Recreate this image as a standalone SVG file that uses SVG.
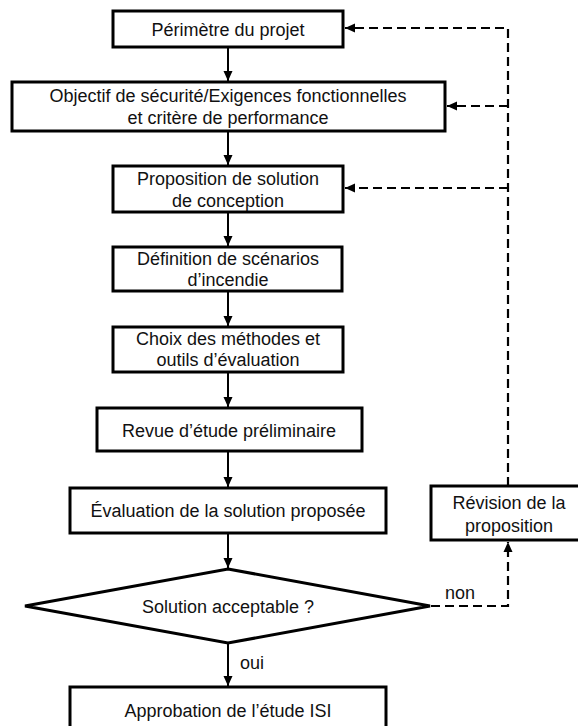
<svg xmlns="http://www.w3.org/2000/svg" width="578" height="726" viewBox="0 0 578 726">
<style>
.box{fill:#fff;stroke:#000;stroke-width:3}
.t{font-family:"Liberation Sans",Arial,sans-serif;font-size:18px;fill:#111;text-anchor:middle}
.tl{font-family:"Liberation Sans",Arial,sans-serif;font-size:18px;fill:#111}
.solid{fill:none;stroke:#000;stroke-width:2}
.dash{fill:none;stroke:#000;stroke-width:2.2;stroke-dasharray:9 5}
</style>
<defs>
<marker id="ah" markerUnits="userSpaceOnUse" markerWidth="10" markerHeight="10" viewBox="0 0 10 10" refX="10" refY="5" orient="auto">
<path d="M0,0.5 L10,5 L0,9.5 Z" fill="#000"/>
</marker>
</defs>
<rect width="578" height="726" fill="#fff"/>
<g id="connectors">
<line class="solid" x1="228" y1="47" x2="228" y2="81" marker-end="url(#ah)"/>
<line class="solid" x1="228" y1="131" x2="228" y2="165" marker-end="url(#ah)"/>
<line class="solid" x1="228" y1="212" x2="228" y2="246" marker-end="url(#ah)"/>
<line class="solid" x1="228" y1="291" x2="228" y2="326" marker-end="url(#ah)"/>
<line class="solid" x1="228" y1="372" x2="228" y2="407" marker-end="url(#ah)"/>
<line class="solid" x1="228" y1="451" x2="228" y2="487" marker-end="url(#ah)"/>
<line class="solid" x1="228" y1="533" x2="228" y2="568" marker-end="url(#ah)"/>
<line class="solid" x1="228" y1="643" x2="228" y2="686" marker-end="url(#ah)"/>
<polyline class="dash" points="431,606 508,606 508,542" marker-end="url(#ah)"/>
<polyline class="dash" points="508,486 508,28 345,28" marker-end="url(#ah)"/>
<line class="dash" x1="508" y1="106" x2="447" y2="106" marker-end="url(#ah)"/>
<line class="dash" x1="508" y1="188" x2="345" y2="188" marker-end="url(#ah)"/>
<text class="tl" x="445" y="599">non</text>
<text class="tl" x="240" y="669">oui</text>
</g>
<g id="n1">
<rect class="box" x="113" y="11" width="230" height="36"/>
<text class="t" x="228" y="36">Périmètre du projet</text>
</g>
<g id="n2">
<rect class="box" x="12" y="82" width="433" height="49"/>
<text class="t" x="228" y="102">Objectif de sécurité/Exigences fonctionnelles</text>
<text class="t" x="228" y="124">et critère de performance</text>
</g>
<g id="n3">
<rect class="box" x="113" y="166" width="230" height="46"/>
<text class="t" x="228" y="185">Proposition de solution</text>
<text class="t" x="228" y="207">de conception</text>
</g>
<g id="n4">
<rect class="box" x="113" y="247" width="229" height="44"/>
<text class="t" x="228" y="265">Définition de scénarios</text>
<text class="t" x="228" y="286">d’incendie</text>
</g>
<g id="n5">
<rect class="box" x="113" y="327" width="230" height="45"/>
<text class="t" x="228" y="345">Choix des méthodes et</text>
<text class="t" x="228" y="366">outils d’évaluation</text>
</g>
<g id="n6">
<rect class="box" x="97" y="408" width="265" height="43"/>
<text class="t" x="229" y="437">Revue d’étude préliminaire</text>
</g>
<g id="n7">
<rect class="box" x="70" y="488" width="316" height="45"/>
<text class="t" x="228" y="517">Évaluation de la solution proposée</text>
</g>
<g id="n8">
<polygon class="box" points="228,569 430,606 228,643 25,606"/>
<text class="t" x="228" y="613">Solution acceptable ?</text>
</g>
<g id="n9">
<rect class="box" x="70" y="687" width="316" height="50"/>
<text class="t" x="228" y="717">Approbation de l’étude ISI</text>
</g>
<g id="n10">
<rect class="box" x="431" y="486" width="160" height="54"/>
<text class="t" x="509" y="509">Révision de la</text>
<text class="t" x="509" y="532">proposition</text>
</g>
</svg>
